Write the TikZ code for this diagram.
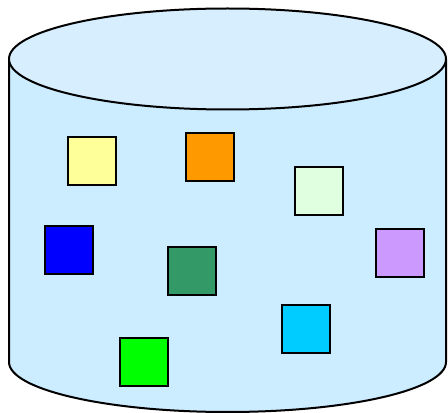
\documentclass[tikz,border=0pt]{standalone}
\usetikzlibrary{positioning}
\definecolor{drumbody}{RGB}{204,236,255}
\definecolor{drumtop}{RGB}{215,238,255}
\definecolor{paleyellow}{RGB}{255,255,153}
\definecolor{boxorange}{RGB}{255,153,0}
\definecolor{palemint}{RGB}{224,255,224}
\definecolor{seagreen}{RGB}{51,153,102}
\definecolor{lavender}{RGB}{204,153,255}
\definecolor{skycyan}{RGB}{0,204,255}

\begin{document}
\begin{tikzpicture}[
    x=1pt, y=1pt,
    drum/.style={draw=black, line width=2pt},
    cube/.style={rectangle, draw=black, fill=#1, line width=2pt, minimum size=48pt, inner sep=0pt},
]
\useasboundingbox (0,0) rectangle (448,413);

% Drum
\draw[drum, fill=drumbody] (9,354) -- (9,51)
    arc[start angle=180, end angle=360, x radius=218.5pt, y radius=50pt] -- (446,354);
\draw[drum, fill=drumtop] (227.5,354) ellipse [x radius=218.5pt, y radius=50.5pt];

% Items
\node[cube=paleyellow] (yellow) at (92,252) {};
\node[cube=boxorange] (orange) at (210,256) {};
\node[cube=palemint] (mint) at (319,222) {};
\node[cube=blue] (blue) at (69,162.5) {};
\node[cube=seagreen] (sea) at (191.5,142) {};
\node[cube=lavender] (lilac) at (400,160) {};
\node[cube=skycyan] (cyan) at (306,83.5) {};
\node[cube=green] (lime) at (143.5,51) {};
\end{tikzpicture}
\end{document}
